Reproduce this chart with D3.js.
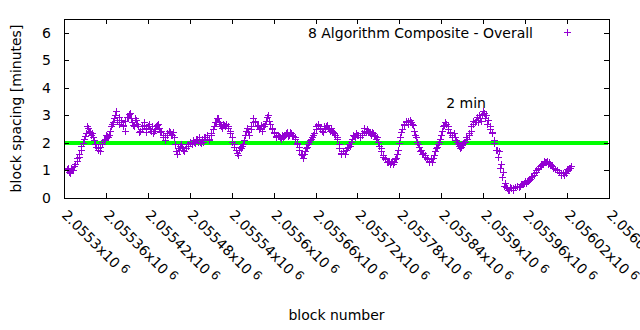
<!DOCTYPE html>
<html>
<head>
<meta charset="utf-8">
<script src="https://cdn.jsdelivr.net/npm/d3@7"></script>
<style>
  body { margin: 0; background: #fff; }
  svg { display: block; font-family: "DejaVu Sans", sans-serif; font-size: 14px; }
</style>
</head>
<body>
<svg id="chart"></svg>
<script>
(function() {

  // block numbers, first sample of each 3-block step
  const blocks = [
    2055304, 2055307, 2055310, 2055313, 2055316, 2055319, 2055322, 2055325, 2055328, 2055331,
    2055334, 2055337, 2055340, 2055343, 2055346, 2055349, 2055352, 2055355, 2055358, 2055361,
    2055364, 2055367, 2055370, 2055373, 2055376, 2055379, 2055382, 2055385, 2055388, 2055391,
    2055394, 2055397, 2055400, 2055403, 2055406, 2055409, 2055412, 2055415, 2055418, 2055421,
    2055424, 2055427, 2055430, 2055433, 2055436, 2055439, 2055442, 2055445, 2055448, 2055451,
    2055454, 2055457, 2055460, 2055463, 2055466, 2055469, 2055472, 2055475, 2055478, 2055481,
    2055484, 2055487, 2055490, 2055493, 2055496, 2055499, 2055502, 2055505, 2055508, 2055511,
    2055514, 2055517, 2055520, 2055523, 2055526, 2055529, 2055532, 2055535, 2055538, 2055541,
    2055544, 2055547, 2055550, 2055553, 2055556, 2055559, 2055562, 2055565, 2055568, 2055571,
    2055574, 2055577, 2055580, 2055583, 2055586, 2055589, 2055592, 2055595, 2055598, 2055601,
    2055604, 2055607, 2055610, 2055613, 2055616, 2055619, 2055622, 2055625, 2055628, 2055631,
    2055634, 2055637, 2055640, 2055643, 2055646, 2055649, 2055652, 2055655, 2055658, 2055661,
    2055664, 2055667, 2055670, 2055673, 2055676, 2055679, 2055682, 2055685, 2055688, 2055691,
    2055694, 2055697, 2055700, 2055703, 2055706, 2055709, 2055712, 2055715, 2055718, 2055721,
    2055724, 2055727, 2055730, 2055733, 2055736, 2055739, 2055742, 2055745, 2055748, 2055751,
    2055754, 2055757, 2055760, 2055763, 2055766, 2055769, 2055772, 2055775, 2055778, 2055781,
    2055784, 2055787, 2055790, 2055793, 2055796, 2055799, 2055802, 2055805, 2055808, 2055811,
    2055814, 2055817, 2055820, 2055823, 2055826, 2055829, 2055832, 2055835, 2055838, 2055841,
    2055844, 2055847, 2055850, 2055853, 2055856, 2055859, 2055862, 2055865, 2055868, 2055871,
    2055874, 2055877, 2055880, 2055883, 2055886, 2055889, 2055892, 2055895, 2055898, 2055901,
    2055904, 2055907, 2055910, 2055913, 2055916, 2055919, 2055922, 2055925, 2055928, 2055931,
    2055934, 2055937, 2055940, 2055943, 2055946, 2055949, 2055952, 2055955, 2055958, 2055961,
    2055964, 2055967, 2055970, 2055973, 2055976, 2055979, 2055982, 2055985, 2055988, 2055991,
    2055994, 2055997, 2056000, 2056003, 2056006, 2056009, 2056012, 2056015, 2056018, 2056021,
    2056024
  ];

  // block spacing [minutes] at those blocks
  const spacing = [
    1.05, 0.95, 1.1, 1.0, 1.25, 1.45, 1.6, 1.9, 2.15, 2.35,
    2.55, 2.4, 2.35, 2.1, 1.85, 1.75, 1.85, 2.05, 2.15, 2.25,
    2.3, 2.6, 2.75, 3.0, 2.85, 2.95, 2.75, 2.65, 2.8, 2.95,
    3.1, 2.75, 2.6, 2.85, 2.6, 2.45, 2.5, 2.65, 2.55, 2.7,
    2.45, 2.35, 2.5, 2.65, 2.55, 2.45, 2.2, 2.2, 2.3, 2.4,
    2.3, 2.2, 1.7, 1.8, 1.9, 1.85, 1.7, 1.8, 1.9, 2.0,
    2.1, 2.0, 2.15, 2.2, 2.0, 2.05, 2.2, 2.3, 2.1, 2.3,
    2.6, 2.75, 2.9, 2.7, 2.55, 2.65, 2.7, 2.6, 2.35, 2.05,
    1.85, 1.65, 1.75, 1.8, 1.95, 2.3, 2.55, 2.3, 2.6, 2.9,
    2.75, 2.65, 2.55, 2.45, 2.6, 2.8, 3.0, 2.7, 2.5, 2.35,
    2.2, 2.25, 2.15, 2.2, 2.3, 2.4, 2.3, 2.35, 2.25, 2.15,
    1.95, 1.75, 1.55, 1.6, 1.8, 1.95, 2.1, 2.2, 2.35, 2.6,
    2.65, 2.5, 2.4, 2.55, 2.65, 2.5, 2.55, 2.4, 2.3, 2.15,
    1.8, 1.6, 1.7, 1.75, 1.85, 1.9, 2.15, 2.25, 2.35, 2.3,
    2.2, 2.3, 2.45, 2.5, 2.4, 2.3, 2.35, 2.25, 2.2, 1.9,
    1.7, 1.5, 1.4, 1.3, 1.25, 1.35, 1.3, 1.45, 1.75, 2.2,
    2.5, 2.65, 2.75, 2.8, 2.75, 2.65, 2.3, 2.05, 1.85, 1.75,
    1.65, 1.5, 1.4, 1.35, 1.3, 1.55, 1.8, 1.95, 2.15, 2.45,
    2.65, 2.7, 2.5, 2.35, 2.3, 2.2, 2.05, 1.9, 1.85, 2.0,
    2.05, 2.15, 2.3, 2.45, 2.7, 2.85, 2.75, 2.9, 3.05, 3.1,
    3.0, 2.85, 2.6, 2.35, 2.1, 1.75, 1.7, 1.25, 0.95, 0.55,
    0.35, 0.3, 0.35, 0.35, 0.4, 0.45, 0.45, 0.5, 0.55, 0.55,
    0.6, 0.7, 0.8, 0.9, 1.0, 1.1, 1.2, 1.25, 1.3, 1.35,
    1.3, 1.2, 1.1, 1.05, 1.0, 0.95, 0.9, 0.85, 0.9, 1.0,
    1.1
  ];

  // block numbers, second sample of each 3-block step
  const blocksB = [
    2055306, 2055309, 2055312, 2055315, 2055318, 2055321, 2055324, 2055327, 2055330, 2055333,
    2055336, 2055339, 2055342, 2055345, 2055348, 2055351, 2055354, 2055357, 2055360, 2055363,
    2055366, 2055369, 2055372, 2055375, 2055378, 2055381, 2055384, 2055387, 2055390, 2055393,
    2055396, 2055399, 2055402, 2055405, 2055408, 2055411, 2055414, 2055417, 2055420, 2055423,
    2055426, 2055429, 2055432, 2055435, 2055438, 2055441, 2055444, 2055447, 2055450, 2055453,
    2055456, 2055459, 2055462, 2055465, 2055468, 2055471, 2055474, 2055477, 2055480, 2055483,
    2055486, 2055489, 2055492, 2055495, 2055498, 2055501, 2055504, 2055507, 2055510, 2055513,
    2055516, 2055519, 2055522, 2055525, 2055528, 2055531, 2055534, 2055537, 2055540, 2055543,
    2055546, 2055549, 2055552, 2055555, 2055558, 2055561, 2055564, 2055567, 2055570, 2055573,
    2055576, 2055579, 2055582, 2055585, 2055588, 2055591, 2055594, 2055597, 2055600, 2055603,
    2055606, 2055609, 2055612, 2055615, 2055618, 2055621, 2055624, 2055627, 2055630, 2055633,
    2055636, 2055639, 2055642, 2055645, 2055648, 2055651, 2055654, 2055657, 2055660, 2055663,
    2055666, 2055669, 2055672, 2055675, 2055678, 2055681, 2055684, 2055687, 2055690, 2055693,
    2055696, 2055699, 2055702, 2055705, 2055708, 2055711, 2055714, 2055717, 2055720, 2055723,
    2055726, 2055729, 2055732, 2055735, 2055738, 2055741, 2055744, 2055747, 2055750, 2055753,
    2055756, 2055759, 2055762, 2055765, 2055768, 2055771, 2055774, 2055777, 2055780, 2055783,
    2055786, 2055789, 2055792, 2055795, 2055798, 2055801, 2055804, 2055807, 2055810, 2055813,
    2055816, 2055819, 2055822, 2055825, 2055828, 2055831, 2055834, 2055837, 2055840, 2055843,
    2055846, 2055849, 2055852, 2055855, 2055858, 2055861, 2055864, 2055867, 2055870, 2055873,
    2055876, 2055879, 2055882, 2055885, 2055888, 2055891, 2055894, 2055897, 2055900, 2055903,
    2055906, 2055909, 2055912, 2055915, 2055918, 2055921, 2055924, 2055927, 2055930, 2055933,
    2055936, 2055939, 2055942, 2055945, 2055948, 2055951, 2055954, 2055957, 2055960, 2055963,
    2055966, 2055969, 2055972, 2055975, 2055978, 2055981, 2055984, 2055987, 2055990, 2055993,
    2055996, 2055999, 2056002, 2056005, 2056008, 2056011, 2056014, 2056017, 2056020, 2056023,
    2056026
  ];

  const spacingB = [
    1.1, 0.9, 1.0, 1.15, 1.35, 1.5, 1.75, 2.0, 2.25, 2.6,
    2.45, 2.3, 2.2, 1.95, 1.8, 1.7, 1.95, 2.1, 2.3, 2.2,
    2.45, 2.7, 2.9, 3.15, 2.7, 2.85, 2.6, 2.45, 2.95, 3.05,
    2.9, 2.65, 2.9, 2.7, 2.4, 2.6, 2.75, 2.4, 2.6, 2.5,
    2.6, 2.45, 2.6, 2.7, 2.4, 2.3, 2.1, 2.35, 2.45, 2.3,
    2.4, 1.95, 1.6, 1.75, 1.95, 1.75, 1.8, 1.95, 2.05, 1.95,
    2.05, 2.15, 2.05, 2.05, 2.15, 2.2, 2.3, 2.15, 2.35, 2.5,
    2.75, 2.9, 2.75, 2.6, 2.7, 2.6, 2.55, 2.45, 2.2, 1.95,
    1.75, 1.55, 1.85, 1.9, 2.1, 2.45, 2.4, 2.5, 2.75, 2.8,
    2.6, 2.5, 2.65, 2.6, 2.7, 2.95, 2.8, 2.55, 2.4, 2.25,
    2.3, 2.2, 2.3, 2.3, 2.35, 2.25, 2.4, 2.3, 2.2, 2.0,
    1.85, 1.6, 1.45, 1.7, 1.85, 2.05, 2.15, 2.3, 2.5, 2.7,
    2.55, 2.45, 2.6, 2.6, 2.55, 2.45, 2.45, 2.35, 2.2, 1.95,
    1.65, 1.7, 1.6, 1.8, 1.95, 2.05, 2.3, 2.2, 2.3, 2.2,
    2.35, 2.55, 2.4, 2.45, 2.35, 2.4, 2.3, 2.15, 2.05, 1.8,
    1.55, 1.45, 1.3, 1.35, 1.3, 1.25, 1.4, 1.6, 2.0, 2.4,
    2.7, 2.8, 2.7, 2.85, 2.7, 2.45, 2.2, 1.95, 1.7, 1.6,
    1.55, 1.45, 1.3, 1.4, 1.45, 1.7, 1.85, 2.05, 2.3, 2.6,
    2.75, 2.6, 2.4, 2.2, 2.35, 2.1, 1.95, 1.8, 1.95, 2.05,
    2.2, 2.35, 2.6, 2.8, 2.75, 2.95, 3.0, 2.8, 3.15, 2.9,
    2.7, 2.5, 2.4, 2.0, 1.75, 1.5, 1.1, 0.75, 0.45, 0.4,
    0.3, 0.4, 0.3, 0.4, 0.45, 0.4, 0.5, 0.5, 0.6, 0.6,
    0.65, 0.75, 0.85, 0.95, 1.05, 1.15, 1.25, 1.35, 1.3, 1.25,
    1.25, 1.15, 1.05, 1.0, 0.95, 0.85, 0.9, 0.95, 1.05, 1.1,
    1.15
  ];

  const targetSpacing = 2;

  const xTicks = [2055300, 2055360, 2055420, 2055480, 2055540, 2055600, 2055660,
                  2055720, 2055780, 2055840, 2055900, 2055960, 2056020, 2056080];
  const xTickLabels = ['2.0553', '2.05536', '2.05542', '2.05548', '2.05554', '2.0556', '2.05566',
                       '2.05572', '2.05578', '2.05584', '2.0559', '2.05596', '2.05602', '2.05608'];
  const yTicks = [0, 1, 2, 3, 4, 5, 6];

  const seriesName = '8 Algorithm Composite - Overall';
  const note = {text: '2 min', block: 2055847, value: 3.47};

  const width = 640;
  const height = 330;
  const margin = {left: 64, right: 31, top: 19, bottom: 132};
  const purple = '#9400d3';

  const svg = d3.select('#chart')
    .attr('width', width)
    .attr('height', height);

  svg.append('rect').attr('width', width).attr('height', height).attr('fill', '#fff');

  const x = d3.scaleLinear()
    .domain([xTicks[0], xTicks[xTicks.length - 1]])
    .range([margin.left, width - margin.right]);
  const y = d3.scaleLinear()
    .domain([0, 6.5])
    .range([height - margin.bottom, margin.top]);

  const plus = function(px, py, r) {
    return 'M' + (px - r) + ',' + py + 'H' + (px + r) + 'M' + px + ',' + (py - r) + 'V' + (py + r);
  };
  const snap = function(v) {
    return Math.round(v) + 0.5;
  };

  // target line
  svg.append('line')
    .attr('x1', x.range()[0]).attr('x2', x.range()[1] - 1)
    .attr('y1', y(targetSpacing)).attr('y2', y(targetSpacing))
    .attr('stroke', '#00ff00')
    .attr('stroke-width', 4);

  // points
  const points = blocks.map(function(b, i) { return [b, spacing[i]]; })
    .concat(blocksB.map(function(b, i) { return [b, spacingB[i]]; }));

  svg.append('g').attr('class', 'points')
    .selectAll('path')
    .data(points)
    .enter()
    .append('path')
    .attr('d', function(d) {
      return plus(snap(x(d[0])), snap(y(d[1])), 3.5);
    })
    .attr('fill', 'none')
    .attr('stroke', purple)
    .attr('stroke-width', 1);

  // axes (ticks point inward, mirrored)
  const ax = function(gen, tx, ty) {
    const g = svg.append('g')
      .attr('transform', 'translate(' + tx + ',' + ty + ')')
      .call(gen);
    g.selectAll('path, line').attr('stroke', '#000').attr('shape-rendering', 'crispEdges');
    g.selectAll('text').attr('fill', '#000').style('font-size', '14px').style('font-family', '"DejaVu Sans", sans-serif');
    return g;
  };

  ax(d3.axisLeft(y).tickValues(yTicks).tickFormat(d3.format('d'))
       .tickSizeInner(-5).tickSizeOuter(0).tickPadding(13),
     margin.left, 0);
  ax(d3.axisRight(y).tickValues(yTicks).tickSizeInner(-5).tickSizeOuter(0).tickFormat(''),
     width - margin.right, 0);
  ax(d3.axisBottom(x).tickValues(xTicks).tickSizeInner(-5).tickSizeOuter(0).tickFormat(''),
     0, height - margin.bottom);
  ax(d3.axisTop(x).tickValues(xTicks).tickSizeInner(-5).tickSizeOuter(0).tickFormat(''),
     0, margin.top);

  // rotated x tick labels
  const labels = svg.append('g').attr('class', 'x-labels');
  xTicks.forEach(function(t, i) {
    const tx = x(t) - 3;
    const ty = height - margin.bottom + 18;
    const txt = labels.append('text')
      .attr('transform', 'translate(' + tx + ',' + ty + ') rotate(45)')
      .attr('fill', '#000');
    txt.append('tspan').text(xTickLabels[i] + 'x10');
    txt.append('tspan').attr('dx', 4).attr('dy', -4).style('font-size', '12px').text('6');
  });

  // axis titles
  svg.append('text')
    .attr('x', (margin.left + width - margin.right) / 2)
    .attr('y', 320)
    .attr('text-anchor', 'middle')
    .text('block number');

  svg.append('text')
    .attr('transform', 'translate(21,' + ((margin.top + height - margin.bottom) / 2) + ') rotate(-90)')
    .attr('text-anchor', 'middle')
    .text('block spacing [minutes]');

  // legend
  svg.append('text')
    .attr('x', 533)
    .attr('y', 38)
    .attr('text-anchor', 'end')
    .text(seriesName);
  svg.append('path')
    .attr('d', plus(567.5, 32.5, 3.5))
    .attr('stroke', purple);

  // annotation
  svg.append('text')
    .attr('x', x(note.block))
    .attr('y', y(note.value))
    .attr('dy', '0.38em')
    .text(note.text);
})();
</script>
</body>
</html>
